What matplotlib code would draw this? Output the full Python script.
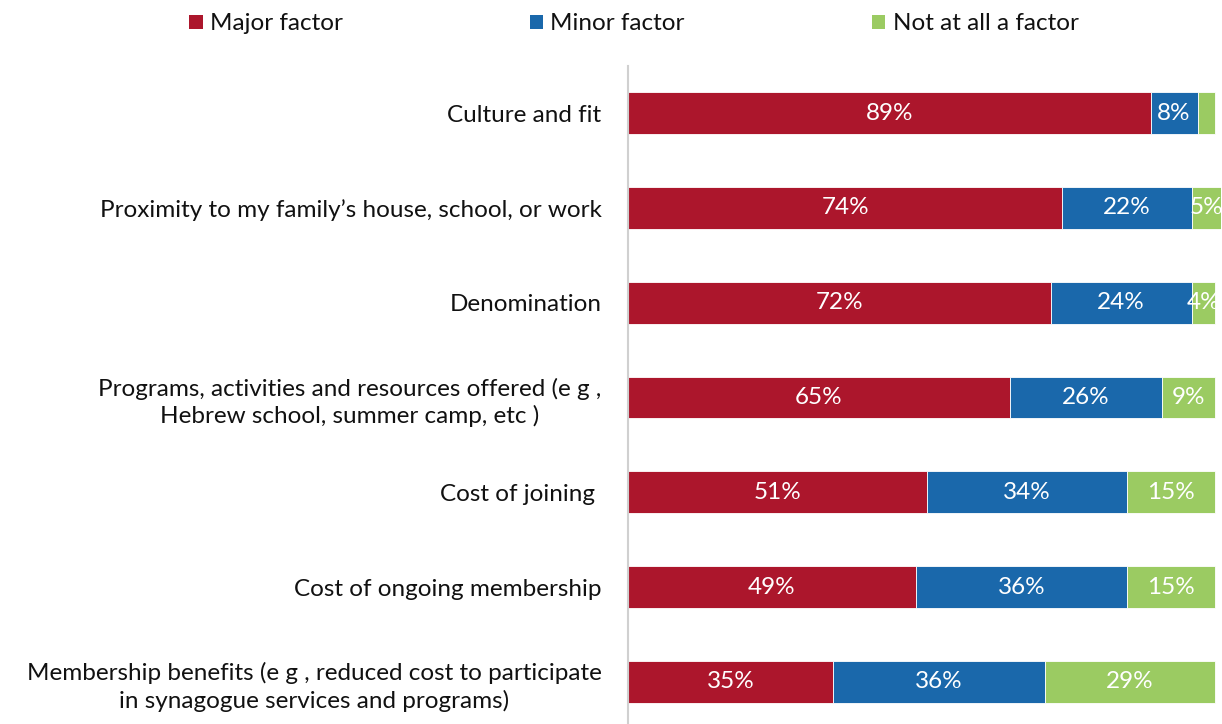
import matplotlib
matplotlib.use("Agg")
import matplotlib.pyplot as plt
from matplotlib.patches import Patch

plt.rcParams['font.family'] = ['Lato', 'DejaVu Sans']

categories = [
    "Culture and fit",
    "Proximity to my family\u2019s house, school, or work",
    "Denomination",
    "Programs, activities and resources offered (e g ,\nHebrew school, summer camp, etc )",
    "Cost of joining ",
    "Cost of ongoing membership",
    "Membership benefits (e g , reduced cost to participate\nin synagogue services and programs)",
]
major = [89, 74, 72, 65, 51, 49, 35]
minor = [8, 22, 24, 26, 34, 36, 36]
not_at_all = [3, 5, 4, 9, 15, 15, 29]
series_names = ["Major factor", "Minor factor", "Not at all a factor"]
colors = ["#AC162C", "#1A68AB", "#9BCB62"]
show_label = [[True] * 7, [True] * 7, [False] + [True] * 6]

FS = 17.5

fig = plt.figure(figsize=(12.22, 7.24), dpi=100)
ax = fig.add_axes([628 / 1222, -5.4 / 724, (1221 - 628) / 1222, (729.4 - 65.6) / 724])

y = list(range(len(categories)))
left = [0] * len(categories)
for vals, col, name, shows in zip([major, minor, not_at_all], colors, series_names, show_label):
    bars = ax.barh(y, vals, left=left, height=0.44, color=col, edgecolor="white",
                   linewidth=0.6, label=name)
    for b, v, s in zip(bars, vals, shows):
        if s:
            ax.text(b.get_x() + b.get_width() / 2, b.get_y() + b.get_height() / 2,
                    f"{v}%", ha="center", va="center", color="white", fontsize=FS)
    left = [l + v for l, v in zip(left, vals)]

ax.set_xlim(0, 101)
ax.set_ylim(len(categories) - 0.5, -0.5)
ax.set_yticks(y)
ax.set_yticklabels(categories, fontsize=FS)
for t in ax.get_yticklabels():
    t.set_multialignment("center")
    t.set_linespacing(1.3)
    t.set_color("#111111")
ax.tick_params(axis="y", length=0, pad=19)
ax.set_xticks([])
for s in ["top", "right", "bottom"]:
    ax.spines[s].set_visible(False)
ax.spines["left"].set_color("#D0D0D0")
ax.spines["left"].set_linewidth(1.5)

handles = [Patch(facecolor=c, label=n) for c, n in zip(colors, series_names)]
leg = fig.legend(handles=handles, loc="center left", bbox_to_anchor=(177 / 1222, 1 - 24 / 724),
                 ncol=3, frameon=False, fontsize=FS, handlelength=0.55, handleheight=0.55,
                 handletextpad=0.3, columnspacing=7.7, borderpad=0)
for t in leg.get_texts():
    t.set_color("#111111")

fig.savefig("out.png", dpi=100)
